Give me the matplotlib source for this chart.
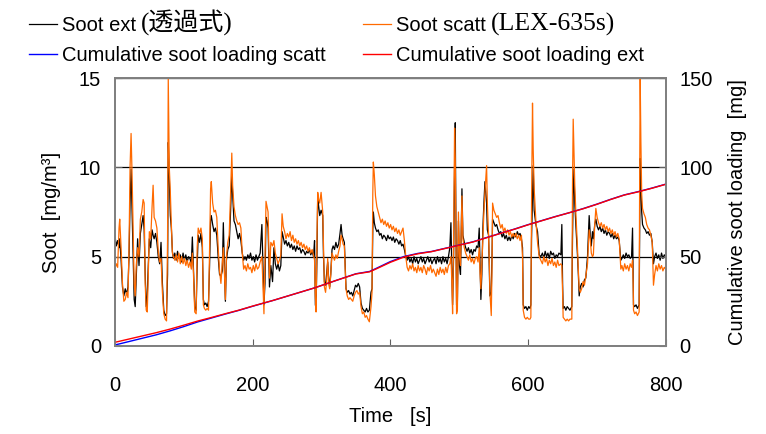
import matplotlib
matplotlib.use("Agg")
import matplotlib.pyplot as plt

plt.rcParams['font.family'] = ['Liberation Sans', 'Noto Sans CJK JP', 'DejaVu Sans']

# ---------------- soot concentration traces ----------------
time_s = [
    0, 2, 4, 6, 7, 9, 11, 13, 15, 17, 19, 20.5, 22, 23.5, 25, 26.5, 28, 29.5, 31, 33,
    35, 37, 39, 41, 42.5, 44, 45.5, 47, 48.5, 50, 52, 54, 55.5, 57, 59, 61, 63, 65, 67, 69,
    71, 73, 75, 76.5, 77.5, 79, 80.5, 82, 83.5, 85, 87, 89, 91, 93, 95, 97, 99, 101, 103, 105,
    107, 109, 111, 112.5, 114,
    116, 118, 119.5, 121, 123, 125, 127, 128.5, 130, 132, 134, 136, 137.5, 139, 140, 142, 144, 146, 148, 150,
    152, 154, 156, 157.5, 159, 160.5, 162, 164, 166, 168, 169.8, 171, 173, 175, 177, 179, 181, 183, 185, 187,
    189, 191, 193, 195, 197, 199, 201, 203, 205, 207, 209, 211, 213.5, 215, 216.5, 218, 219.5, 221, 222.5, 224.5,
    226.5, 229, 231,
    233, 235, 237, 239, 241, 242.8, 244.5, 246.5, 248.5, 250.5, 252.5, 254.5, 256.5, 258.5, 260.5, 262.5, 264.5, 266.5, 268.5, 270.5,
    272.5, 274.5, 276.5, 278.5, 280.5, 282.5, 284.5, 286.5, 288.5, 290, 291.2, 292.2, 293.5, 294.6, 296, 297.5, 299.5, 301.9, 303, 304.3,
    306, 307.5, 309.1, 310.5, 312, 313.5, 315.4, 317, 319, 321, 323, 325, 327, 328.5, 330, 331.5, 333.3, 334.5, 335.7, 337.5,
    339.5, 341.5, 343.5, 345.5, 347.5,
    349.5, 351.5, 353.5, 355.5, 357.5, 359.5, 361.5, 363.5, 365.5, 367.5, 369.6, 372, 373.5, 374.6, 375.4, 376.8, 378.5, 380.5, 382.5, 384.5,
    386.5, 388.5, 390.5, 392.5, 394.5, 396.5, 398.5, 400.5, 402.5, 404.5, 406.5, 408.5, 410.5, 412.5, 414.5, 416.5, 418.5, 420.5, 422.5, 424.5,
    426.5, 428.5, 430.5, 432.5, 434.5, 436.5, 438.5, 440.5, 442.5, 444.5, 446.5, 448.5, 450.5, 452.5, 454.5, 456.5, 458.5, 460.5, 462.5,
    464.5, 466.5, 468.5, 470.5, 472.5, 474.5, 476.5, 478.5, 480.5, 482.5, 484.5, 486.5, 488.1, 489.5, 490.5, 492, 493.4, 494.4, 495.3, 496.3,
    497.5, 499, 500.5, 502, 504.1, 505.5, 507.5, 509.5, 511.5, 513.5, 515.5, 517.5, 519.5, 521.5, 523.5, 525.5, 527.5, 529.2, 530.5, 531.6,
    533, 534.5, 536, 537.5, 539.9, 541, 542.8, 544, 544.7, 546.7, 547.8, 548.6, 550.5, 552.5, 554.5, 556.5, 558.5, 560.5, 562.5, 564.5,
    566.5, 568.5, 570.5, 572.5, 574.5, 576.5, 578.5,
    580.5, 582.5, 584.5, 586.5, 588.5, 590.5, 592.1, 593.1, 595, 597, 599, 601, 603, 604.2, 605.2, 606.6, 607.6, 609, 611.5, 613.9,
    616.3, 618.7, 621, 623, 625, 627, 629, 631, 633, 635, 637, 639, 641, 643, 645, 647.8, 649.2, 650.3, 651.1, 653,
    655, 657, 659, 661, 663.7, 664.7, 665.7, 666.8, 668, 669.5, 671.9, 673.2, 674.4, 676, 678, 680, 682, 684, 686.5, 688.9,
    690.5, 692, 693.7,
    695, 697, 698.6, 700.5, 702.5, 704.5, 706.5, 708.5, 710.5, 712.5, 714.5, 716.5, 718.5, 720.5, 722.5, 724.5, 726.5, 728.5, 730.5, 732.5,
    734.9, 736.5, 738.5, 740.5, 742.5, 744.5, 746.5, 748.5, 750.5, 751.9, 752.8, 753.3, 755, 757, 759, 761.5, 762.2, 763, 764, 765.2,
    766.4, 768.5, 770.5, 772.5, 774.5, 776.5, 778.5, 780.5, 782.3, 784, 786, 788, 790, 792, 794, 796, 798, 800,
]

soot_ext = [
    6.2, 5.6, 5.9, 5.5, 6.0, 4.8, 3.3, 2.8, 3.2, 2.9, 3.3, 5.0, 8.0, 9.9, 7.5, 5.0, 2.6, 2.2, 3.8, 6.0,
    4.5, 6.3, 6.8, 7.3, 6.5, 4.0, 2.2, 2.8, 4.5, 6.0, 5.5, 6.5, 6.2, 6.0, 6.3, 5.8, 5.0, 4.6, 5.8, 3.5,
    2.0, 1.7, 1.8, 4.0, 11.4, 9.5, 7.3, 6.6, 5.3, 4.9, 5.2, 4.8, 5.3, 4.9, 5.1, 4.7, 5.2, 4.8, 5.1, 4.7,
    5.0, 4.9, 4.6, 6.1, 4.5,
    2.2, 2.0, 4.5, 6.2, 5.8, 6.3, 5.5, 2.6, 2.3, 2.4, 2.2, 2.5, 4.5, 7.0, 7.3, 6.8, 6.4, 6.6, 6.2, 5.0,
    4.0, 3.9, 4.2, 6.9, 4.5, 2.5, 4.8, 5.4, 5.6, 7.5, 9.6, 8.5, 7.0, 6.8, 6.4, 6.0, 6.3, 5.9, 5.2, 4.8,
    5.0, 4.8, 5.1, 4.9, 5.2, 4.8, 5.0, 4.7, 5.1, 4.8, 5.0, 5.2, 6.8, 4.5, 2.3, 3.5, 7.2, 7.0, 6.6, 3.3,
    4.5, 3.6, 5.5,
    4.6, 4.3, 4.6, 4.2, 4.5, 6.4, 6.1, 5.7, 5.9, 5.6, 5.8, 5.5, 5.7, 5.4, 5.6, 5.3, 5.6, 5.4, 5.5, 5.2,
    5.4, 5.3, 5.1, 5.3, 5.2, 5.4, 5.1, 5.3, 5.0, 5.9, 2.3, 2.1, 5.0, 8.4, 7.8, 7.3, 7.6, 7.3, 5.0, 3.6,
    3.4, 4.0, 4.7, 3.8, 3.3, 4.0, 5.4, 5.6, 5.4, 5.8, 5.5, 5.7, 6.3, 6.8, 6.2, 6.0, 5.8, 4.5, 3.2, 3.0,
    3.1, 2.9, 3.0, 2.8, 3.1,
    3.4, 3.3, 3.5, 3.3, 2.4, 2.1, 2.0, 1.9, 2.1, 1.9, 2.0, 3.0, 3.2, 6.5, 7.5, 6.9, 6.6, 6.4, 6.5, 6.2,
    6.3, 6.0, 6.2, 6.1, 5.9, 6.2, 6.0, 6.1, 5.9, 6.1, 5.8, 6.0, 5.9, 5.7, 5.9, 5.6, 5.7, 5.4, 5.0, 4.8,
    5.0, 4.7, 4.9, 4.6, 5.0, 4.7, 4.9, 4.6, 4.8, 5.0, 4.7, 4.9, 4.6, 4.8, 5.0, 4.7, 4.9, 4.6, 4.8,
    4.9, 4.6, 5.0, 4.7, 4.9, 4.6, 5.0, 4.7, 4.9, 4.6, 5.0, 5.5, 6.9, 4.0, 2.3, 5.0, 10.0, 12.5, 7.0, 2.3,
    2.5, 7.0, 4.5, 4.0, 8.8, 6.2, 5.8, 5.5, 5.3, 5.5, 5.2, 5.4, 5.1, 5.4, 5.3, 5.6, 5.5, 6.6, 4.5, 2.6,
    4.0, 6.6, 8.0, 9.2, 8.0, 6.5, 6.2, 4.0, 2.8, 3.0, 5.0, 7.1, 6.9, 6.7, 6.8, 6.5, 6.3, 6.4, 6.1, 6.3,
    6.0, 6.2, 5.9, 6.1, 5.9, 6.2, 6.0,
    6.3, 6.1, 6.4, 6.2, 6.3, 6.0, 5.5, 2.3, 2.1, 2.2, 2.0, 2.2, 2.1, 2.3, 6.0, 8.5, 10.1, 7.6, 6.8, 6.4,
    5.1, 5.0, 5.2, 4.9, 5.3, 5.0, 5.2, 4.9, 5.3, 5.1, 5.2, 4.9, 5.1, 5.0, 5.2, 5.1, 6.8, 3.5, 2.1, 2.2,
    2.0, 2.2, 2.1, 2.0, 2.2, 6.0, 8.5, 9.9, 8.0, 6.8, 5.1, 4.0, 2.8, 3.3, 3.5, 3.3, 3.7, 3.8, 5.0, 7.3,
    6.2, 5.6, 6.4,
    6.0, 6.8, 7.1, 6.7, 6.5, 6.7, 6.4, 6.6, 6.3, 6.5, 6.2, 6.4, 6.3, 6.1, 6.3, 6.0, 6.2, 6.0, 6.1, 5.9,
    4.8, 4.9, 5.1, 4.9, 5.2, 5.0, 5.1, 4.9, 5.0, 6.6, 4.0, 2.3, 2.2, 2.3, 2.1, 2.3, 6.0, 10.5, 9.0, 7.5,
    6.8, 6.6, 6.5, 6.3, 6.4, 6.2, 6.3, 5.8, 4.6, 5.0, 5.2, 4.9, 5.1, 4.8, 5.2, 4.9, 5.1, 5.0,
]

soot_scatt = [
    4.3, 4.6, 4.4, 6.6, 7.1, 5.5, 3.5, 2.5, 2.6, 3.0, 2.7, 5.5, 10.0, 11.9, 9.5, 6.5, 3.5, 2.8, 4.5, 5.5,
    5.0, 7.1, 7.5, 8.2, 8.0, 3.5, 2.0, 1.9, 4.0, 6.4, 6.0, 7.8, 9.0, 7.2, 7.0, 6.6, 5.3, 4.7, 4.9, 3.0,
    1.8, 1.5, 1.4, 6.0, 15.0, 10.0, 8.6, 6.8, 5.2, 5.0, 4.8, 5.1, 4.7, 5.2, 4.6, 5.0, 4.6, 4.9, 4.5, 4.8,
    4.4, 4.7, 4.3, 5.2, 4.2,
    1.9, 1.8, 5.5, 6.6, 6.3, 6.6, 6.0, 2.3, 2.1, 2.0, 2.1, 2.0, 5.5, 8.8, 9.2, 8.0, 7.5, 7.6, 7.2, 5.5,
    4.2, 3.5, 4.6, 5.5, 4.2, 2.6, 5.0, 5.8, 6.2, 8.5, 10.8, 9.0, 7.8, 7.3, 7.0, 6.8, 6.9, 6.6, 5.2, 4.3,
    4.5, 4.2, 4.6, 4.3, 4.4, 4.1, 4.5, 4.2, 4.6, 4.3, 4.4, 4.7, 5.0, 3.5, 1.8, 5.0, 8.1, 7.8, 7.5, 3.8,
    5.8, 5.6, 5.9,
    5.2, 4.9, 4.6, 4.8, 5.1, 7.4, 6.7, 6.4, 6.0, 6.3, 6.1, 6.4, 5.9, 6.2, 5.8, 6.0, 5.7, 5.9, 5.6, 5.8,
    5.5, 5.7, 5.4, 5.6, 5.3, 5.5, 5.2, 5.4, 5.1, 4.8, 2.8, 1.9, 6.0, 8.6, 8.2, 8.0, 8.6, 7.5, 5.5, 3.3,
    3.0, 3.6, 4.9, 3.5, 3.2, 4.0, 5.2, 5.0, 4.8, 5.1, 4.9, 5.3, 5.6, 6.2, 6.0, 5.7, 5.6, 4.3, 3.2, 2.8,
    2.6, 2.7, 2.6, 2.5, 2.8,
    3.0, 3.1, 2.9, 3.0, 2.2, 1.8, 1.9, 1.6, 1.7, 1.5, 1.35, 2.2, 3.0, 8.5, 10.3, 9.6, 8.4, 7.8, 7.5, 7.2,
    6.9, 7.1, 6.8, 7.0, 6.7, 6.9, 6.6, 6.8, 6.5, 6.7, 6.4, 6.6, 6.3, 6.5, 6.2, 6.4, 6.6, 5.9, 5.0, 4.4,
    4.2, 4.5, 4.3, 4.6, 4.2, 4.4, 4.1, 4.5, 4.2, 4.4, 4.1, 4.5, 4.3, 4.0, 4.4, 4.2, 4.5, 4.1, 4.3,
    4.1, 3.9, 4.3, 4.0, 4.4, 4.1, 4.3, 4.0, 4.4, 4.1, 4.5, 4.6, 5.0, 3.5, 1.8, 6.0, 12.2, 10.5, 6.5, 1.8,
    2.0, 7.5, 5.0, 4.5, 8.4, 6.0, 5.5, 5.2, 5.0, 4.8, 5.1, 4.7, 4.9, 4.6, 4.9, 5.0, 4.7, 5.5, 4.0, 3.2,
    4.5, 6.0, 7.5, 8.6, 10.1, 8.0, 6.2, 4.5, 3.0, 1.7, 4.5, 8.0, 7.6, 7.4, 7.2, 7.3, 6.9, 6.6, 6.8, 6.4,
    6.6, 6.3, 6.5, 6.2, 6.4, 6.1, 6.3,
    6.1, 6.3, 6.0, 6.2, 5.9, 6.2, 5.0, 2.0, 1.6, 1.5, 1.6, 1.5, 1.5, 1.6, 8.0, 13.6, 11.0, 8.8, 7.0, 5.8,
    5.0, 4.8, 4.6, 5.0, 4.7, 4.9, 4.5, 4.8, 4.6, 4.9, 4.5, 4.7, 4.4, 4.8, 4.5, 4.6, 4.5, 3.0, 1.6, 1.5,
    1.4, 1.5, 1.4, 1.5, 1.5, 9.0, 12.7, 11.0, 9.0, 7.5, 5.5, 4.2, 3.2, 3.0, 3.2, 3.6, 3.4, 3.9, 4.6, 6.5,
    6.0, 5.2, 5.0,
    5.1, 6.8, 7.7, 7.2, 6.9, 6.7, 6.9, 6.6, 6.8, 6.5, 6.7, 6.4, 6.6, 6.3, 6.5, 6.2, 6.4, 6.1, 6.3, 6.0,
    4.3, 4.5, 4.2, 4.6, 4.3, 4.5, 4.2, 4.6, 4.4, 4.8, 3.5, 2.0, 1.8, 1.9, 1.7, 1.9, 9.0, 15.0, 11.5, 8.5,
    7.7, 7.4, 7.2, 6.8, 6.6, 6.5, 6.2, 5.8, 3.4, 4.0, 4.5, 4.2, 4.6, 4.3, 4.5, 4.2, 4.4, 4.3,
]

# ---------------- cumulative soot loading [mg] ----------------
time_cum = [0, 20, 40, 60, 80, 100, 120, 140, 160, 180, 200, 230, 260, 290, 320, 350, 370, 380, 400, 420,
            440, 460, 480, 500, 520, 540, 560, 580, 600, 620, 640, 660, 680, 700, 720, 740, 760, 780, 800]
cum_ext = [2.0, 3.8, 5.6, 7.4, 9.4, 11.6, 13.9, 15.9, 18.0, 20.0, 22.3, 25.5, 29.0, 32.5, 36.5, 40.3, 41.5, 43.2, 46.8, 49.8,
           51.6, 52.8, 54.6, 56.4, 58.2, 60.6, 63.0, 65.3, 67.8, 70.1, 72.4, 74.6, 76.8, 79.3, 82.0, 84.5, 86.3, 88.3, 90.5]
cum_scatt = [0.5, 2.4, 4.3, 6.2, 8.4, 10.8, 13.4, 15.6, 17.8, 19.9, 22.2, 25.5, 29.0, 32.5, 36.5, 40.4, 41.7, 43.5, 47.2, 50.1,
             51.8, 52.9, 54.7, 56.5, 58.3, 60.7, 63.1, 65.4, 67.9, 70.2, 72.5, 74.6, 76.9, 79.4, 82.1, 84.6, 86.4, 88.4, 90.6]

FS = 14.5

fig = plt.figure(figsize=(7.66, 4.34), dpi=100)
ax = fig.add_axes([0.150, 0.203, 0.719, 0.617])
ax2 = ax.twinx()

l_ext, = ax.plot(time_s, soot_ext, color='black', lw=0.9, label='Soot ext')
l_sca, = ax.plot(time_s, soot_scatt, color='#ff6a00', lw=0.9, label='Soot scatt')
l_cs, = ax2.plot(time_cum, cum_scatt, color='#0000ff', lw=1.0, label='Cumulative soot loading scatt')
l_ce, = ax2.plot(time_cum, cum_ext, color='#ff0000', lw=1.0, label='Cumulative soot loading ext')

ax.set_xlim(0, 800)
ax.set_ylim(0, 15)
ax2.set_ylim(0, 150)
ax.set_xticks([0, 200, 400, 600, 800])
ax.set_yticks([0, 5, 10, 15])
ax2.set_yticks([0, 50, 100, 150])
ax.grid(axis='y', color='black', lw=0.9)
ax.set_axisbelow(True)

for a in (ax, ax2):
    a.tick_params(direction='in', labelsize=FS, length=5, color='#606060')
    for s in a.spines.values():
        s.set_color('#808080')
        s.set_linewidth(1.3)
ax.tick_params(axis='x', pad=22)
ax.tick_params(axis='y', pad=10)
ax2.tick_params(axis='y', pad=10)

ax.set_xlabel('Time   [s]', fontsize=FS, labelpad=8)
ax.set_ylabel('Soot  [mg/m³]', fontsize=FS, labelpad=13)
ax2.set_ylabel('Cumulative soot loading  [mg]', fontsize=FS, labelpad=11)

leg = fig.legend(handles=[l_ext, l_cs, l_sca, l_ce], ncol=2, frameon=False,
                 loc='upper left', bbox_to_anchor=(0.014, 1.005), fontsize=FS,
                 handlelength=1.4, handletextpad=0.25, columnspacing=1.85, labelspacing=0.55)

# the bracketed parts of the first row are set in a serif face
fig.canvas.draw()
rend = fig.canvas.get_renderer()
W, H = fig.bbox.width, fig.bbox.height
for txt, extra, fam, size in [(leg.get_texts()[0], '(透過式)', ['Liberation Serif', 'Noto Sans CJK JP'], 18),
                              (leg.get_texts()[2], '(LEX-635s)', ['Liberation Serif'], 18.5)]:
    bb = txt.get_window_extent(rend)
    fig.text((bb.x1 + 5) / W, (bb.y0 - 1) / H, extra, ha='left', va='bottom',
             fontsize=size, family=fam)

fig.savefig('out.png', dpi=100)
